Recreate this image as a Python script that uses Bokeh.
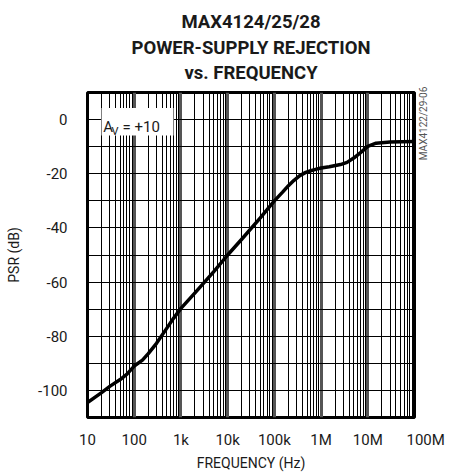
import math
from bokeh.plotting import figure
from bokeh.models import FixedTicker, Label, BoxAnnotation, Range1d, Title, LinearAxis
from bokeh.embed import file_html
from bokeh.resources import INLINE

# ---- data ----
freq_hz = [10, 20, 30, 50, 70, 100, 150, 200, 300, 500, 700, 1e3, 2e3, 5e3, 1e4,
           2e4, 5e4, 1e5, 1.5e5, 2e5, 2.6e5, 3.5e5, 4.7e5, 6e5, 8e5, 1e6, 1.5e6,
           2.6e6, 3.6e6, 5e6, 7e6, 1e7, 1.5e7, 3e7, 1e8]
psr_db = [-104.5, -100.8, -98.5, -96.0, -94.0, -91.0, -88.8, -86.4, -82.6, -77.0,
          -73.3, -69.7, -64.0, -56.2, -50.0, -44.2, -36.3, -30.0, -26.8, -24.4,
          -22.5, -20.7, -19.5, -18.9, -18.3, -17.9, -17.4, -16.6, -15.8, -14.2,
          -12.2, -9.9, -8.7, -8.3, -8.1]

x_tick_values = [10, 100, 1e3, 1e4, 1e5, 1e6, 1e7, 1e8]
x_tick_labels = ["10", "100", "1k", "10k", "100k", "1M", "10M", "100M"]
y_tick_values = [-100, -80, -60, -40, -20, 0]
y_tick_labels = ["-100", "-80", "-60", "-40", "-20", "0"]
y_grid_values = [-110, -100, -90, -80, -70, -60, -50, -40, -30, -20, -10, 0, 10]

title_lines = ["MAX4124/25/28", "POWER-SUPPLY REJECTION", "vs. FREQUENCY"]
side_code = "MAX4122/29-06"

FONT = "Roboto"
TXT = "#1a1a1a"

# frame geometry (page pixels) used only to place annotations
FL, FR, FT, FB = 87.0, 414.0, 92.0, 417.0
XMIN, XMAX, YMIN, YMAX = 10.0, 1e8, -110.0, 10.0


def px_to_data(px, py):
    lx = math.log10(XMIN) + (px - FL) / (FR - FL) * (math.log10(XMAX) - math.log10(XMIN))
    y = YMAX - (py - FT) / (FB - FT) * (YMAX - YMIN)
    return 10 ** lx, y


minor_x = [m * 10 ** d for d in range(1, 8) for m in range(2, 10)]

p = figure(title=None, x_axis_type="log", x_range=Range1d(XMIN, XMAX),
           y_range=Range1d(YMIN, YMAX),
           frame_width=int(FR - FL), frame_height=int(FB - FT),
           min_border_left=int(FL), min_border_top=int(FT),
           min_border_right=449 - int(FR), min_border_bottom=476 - int(FB),
           output_backend="svg", toolbar_location=None,
           background_fill_color="white", border_fill_color="white")

xt = FixedTicker(ticks=x_tick_values, minor_ticks=minor_x)
yt = FixedTicker(ticks=y_tick_values, minor_ticks=y_grid_values)
p.xaxis.ticker = xt
p.yaxis.ticker = yt
p.xgrid.ticker = xt
p.ygrid.ticker = yt
x_overrides = {v: l for v, l in zip(x_tick_values, x_tick_labels)}
# the last label sits a little right of its decade line in the reference
x_overrides[x_tick_values[-1]] = "\u00a0" * 6 + x_tick_labels[-1]
p.xaxis.major_label_overrides = x_overrides
p.yaxis.major_label_overrides = {v: l for v, l in zip(y_tick_values, y_tick_labels)}

p.xgrid.grid_line_color = "#555555"
p.xgrid.grid_line_width = 3
p.xgrid.minor_grid_line_color = "black"
p.xgrid.minor_grid_line_width = 1
p.ygrid.grid_line_color = "black"
p.ygrid.grid_line_width = 1
p.ygrid.minor_grid_line_color = "black"
p.ygrid.minor_grid_line_width = 1

p.outline_line_color = "black"
p.outline_line_width = 3
p.outline_line_alpha = 1

for ax in (p.xaxis, p.yaxis):
    ax.axis_line_color = None
    ax.major_tick_line_color = None
    ax.minor_tick_line_color = None
    ax.major_label_text_font = FONT
    ax.major_label_text_font_size = "15px"
    ax.major_label_text_color = TXT
    ax.axis_label_text_font = FONT
    ax.axis_label_text_font_size = "14px"
    ax.axis_label_text_font_style = "normal"
    ax.axis_label_text_color = TXT

p.xaxis.axis_label = "FREQUENCY (Hz)"
p.yaxis.axis_label = "PSR (dB)"
p.xaxis.major_label_standoff = 7
p.xaxis.axis_label_standoff = 3
p.yaxis.major_label_standoff = 14
p.yaxis.axis_label_standoff = 13

# side code on the right, reading upward from its tick
side_tick = [-15.0]
rax = LinearAxis(ticker=FixedTicker(ticks=side_tick, minor_ticks=[]),
                 major_label_overrides={side_tick[0]: side_code},
                 major_label_orientation=math.pi / 2,
                 major_label_standoff=3,
                 major_label_text_font=FONT, major_label_text_font_size="10px",
                 major_label_text_color="#555555",
                 axis_line_color=None, major_tick_line_color=None,
                 minor_tick_line_color=None)
p.add_layout(rax, "right")

p.line(freq_hz, psr_db, line_color="black", line_width=3.5, line_join="round")

# gain annotation box
bl, bb = px_to_data(101, 135)
br, bt = px_to_data(173, 107.5)
p.add_layout(BoxAnnotation(left=bl, right=br, bottom=bb, top=bt,
                           fill_color="white", fill_alpha=1.0, line_color=None))
ax_, ay_ = px_to_data(102.7, 126.7)
p.add_layout(Label(x=ax_, y=ay_, text="A", text_font=FONT, text_font_size="15px",
                   text_color=TXT, text_align="left", text_baseline="alphabetic"))
vx_, vy_ = px_to_data(111.0, 130.5)
p.add_layout(Label(x=vx_, y=vy_, text="V", text_font=FONT, text_font_size="11px",
                   text_color=TXT, text_align="left", text_baseline="alphabetic"))
ex_, ey_ = px_to_data(122, 126.7)
p.add_layout(Label(x=ex_, y=ey_, text="= +10", text_font=FONT, text_font_size="15px",
                   text_color=TXT, text_align="left", text_baseline="alphabetic"))

# title: a thin spacer next to the frame, then the three lines stacked upward
p.add_layout(Title(text="\u00a0", text_font_size="1px", standoff=6), "above")
title_standoffs = [4, 1, 0]   # for MAX..., POWER..., vs. ...
for t, so in zip(reversed(title_lines), reversed(title_standoffs)):
    p.add_layout(Title(text=t, align="center", text_font=FONT, text_font_size="18.5px",
                       text_font_style="bold", text_color=TXT, standoff=so), "above")

open("out.html", "w").write(file_html(p, INLINE))
